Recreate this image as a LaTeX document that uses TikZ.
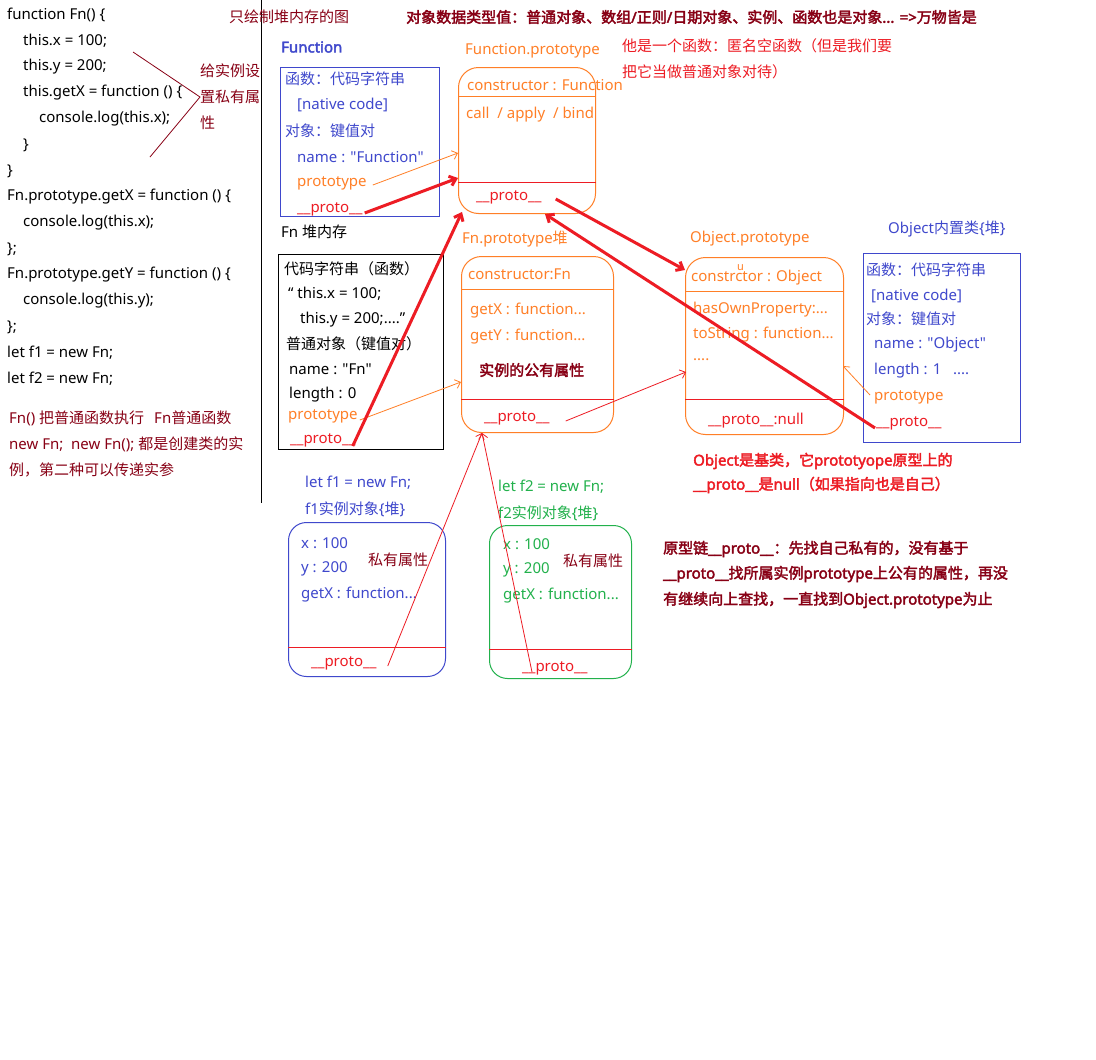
\documentclass[tikz,border=0pt]{standalone}
\usepackage{fontspec}
\setmainfont{Noto Sans}[Ligatures=TeXOff, AutoFakeBold=2.5]
\newfontfamily\cjkfont{Noto Sans CJK SC}[Ligatures=TeXOff, AutoFakeBold=2.5]
\usetikzlibrary{arrows.meta}
\usepackage{xcolor}

% switch to the CJK face for ideographs and CJK punctuation
\newcount\cjkcnt
\newcommand{\cjkrange}[2]{%
  \cjkcnt=#1
  \loop
    \XeTeXcharclass\cjkcnt=7
    \ifnum\cjkcnt<#2 \advance\cjkcnt by 1
  \repeat}
\cjkrange{"3000}{"303F}
\cjkrange{"4E00}{"9FFF}
\cjkrange{"FF00}{"FFEF}
\XeTeXinterchartokenstate=1
\XeTeXinterchartoks 0 7 = {\cjkfont}
\XeTeXinterchartoks 4095 7 = {\cjkfont}
\XeTeXinterchartoks 7 0 = {\rmfamily}
\XeTeXinterchartoks 4095 0 = {\rmfamily}

\definecolor{pblue}{RGB}{63,72,204}
\definecolor{porange}{RGB}{255,127,39}
\definecolor{pred}{RGB}{237,28,36}
\definecolor{pdark}{RGB}{136,0,21}
\definecolor{pgreen}{RGB}{34,177,76}

\newcommand{\pp}{\_\_proto\_\_}

\begin{document}
\begin{tikzpicture}[
        x=1pt, y=-1pt,
        t/.style={anchor=west, inner sep=0pt, font=\fontsize{15}{18}\selectfont},
        b/.style={t, font=\fontsize{15}{18}\selectfont\bfseries},
        box/.style={draw, anchor=north west, inner sep=0pt, line width=1pt},
        rbox/.style={box, rounded corners=20pt},
        thinarrow/.style={-{Straight Barb[length=5pt,width=9pt]}, line width=0.8pt},
        thickarrow/.style={-{Straight Barb[length=6pt,width=10pt]}, line width=3pt}
    ]
        \useasboundingbox[fill=white] (0,0) rectangle (1096,1060);

        % Code on the left
        \node[t] (c1) at (7,15) {function Fn() \{};
        \node[t] (c2) at (23,41) {this.x = 100;};
        \node[t] (c3) at (23,67) {this.y = 200;};
        \node[t] (c4) at (23,93) {this.getX = function () \{};
        \node[t] (c5) at (39,119) {console.log(this.x);};
        \node[t] (c6) at (23,145) {\}};
        \node[t] (c7) at (7,171) {\}};
        \node[t] (c8) at (7,197) {Fn.prototype.getX = function () \{};
        \node[t] (c9) at (23,223) {console.log(this.x);};
        \node[t] (c10) at (7,249) {\};};
        \node[t] (c11) at (7,275) {Fn.prototype.getY = function () \{};
        \node[t] (c12) at (23,301) {console.log(this.y);};
        \node[t] (c13) at (7,327) {\};};
        \node[t] (c14) at (7,353) {let f1 = new Fn;};
        \node[t] (c15) at (7,379) {let f2 = new Fn;};

        % Private property note
        \node[t, text=pdark] (pn1) at (200,71) {给实例设};
        \node[t, text=pdark] (pn2) at (200,97) {置私有属};
        \node[t, text=pdark] (pn3) at (200,123) {性};
        \coordinate (br-a) at (133,52);
        \coordinate (br-b) at (150,157);
        \draw[pdark, line width=0.8pt] (br-a) -- (pn2.west) -- (br-b);

        % Notes under the code
        \node[t, text=pdark] (n1) at (9,418) {Fn() 把普通函数执行 \ \ Fn普通函数};
        \node[t, text=pdark] (n2) at (9,444) {new Fn; \ new Fn(); 都是创建类的实};
        \node[t, text=pdark] (n3) at (9,470) {例，第二种可以传递实参};

        % Separator
        \coordinate (sep-top) at (261,0);
        \coordinate (sep-bot) at (261,503);
        \draw[line width=1pt] (sep-top) -- (sep-bot);

        % Titles
        \node[t, text=pdark] (title1) at (229,17) {只绘制堆内存的图};
        \node[b, text=pdark] (title2) at (406,17) {对象数据类型值：普通对象、数组/正则/日期对象、实例、函数也是对象... =>万物皆是};

        % Function (built-in class)
        \node[b, text=pblue] (fnc-lbl) at (281,47) {Function};
        \node[box, draw=pblue, minimum width=159pt, minimum height=149pt] (fnc) at (280,67) {};
        \node[t, text=pblue] (fnc-1) at (285,79) {函数：代码字符串};
        \node[t, text=pblue] (fnc-2) at (297,105) {[native code]};
        \node[t, text=pblue] (fnc-3) at (285,131) {对象：键值对};
        \node[t, text=pblue] (fnc-4) at (297,157) {name : "Function"};
        \node[t, text=porange] (fnc-pt) at (297,183) {prototype};
        \node[t, text=pred] (fnc-pp) at (297,209) {\pp};

        % Function.prototype
        \node[t, text=porange] (fp-lbl) at (465,51) {Function.prototype};
        \node[rbox, draw=porange, minimum width=137pt, minimum height=146pt] (fp) at (458,67) {};
        \draw[porange, line width=1pt] (fp.west |- 0,96) -- (fp.east |- 0,96);
        \draw[pred, line width=1pt] (fp.west |- 0,182) -- (fp.east |- 0,182);
        \node[t, text=porange] (fp-1) at (467,85) {constructor : Function};
        \node[t, text=porange] (fp-2) at (466,115) {call \ / apply \ / bind};
        \node[t, text=pred] (fp-pp) at (476,197) {\pp};
        \node[t, text=pred] (fp-n1) at (622,46) {他是一个函数：匿名空函数（但是我们要};
        \node[t, text=pred] (fp-n2) at (622,72) {把它当做普通对象对待）};

        % Fn heap
        \node[t] (fn-lbl) at (281,232) {Fn 堆内存};
        \node[box, minimum width=165pt, minimum height=195pt] (fn) at (278,254) {};
        \node[t] (fn-1) at (284,269) {代码字符串（函数）};
        \node[t] (fn-2) at (288,294) {“ this.x = 100;};
        \node[t] (fn-3) at (300,320) {this.y = 200;....”};
        \node[t] (fn-4) at (286,344) {普通对象（键值对）};
        \node[t] (fn-5) at (289,369) {name : "Fn"};
        \node[t] (fn-6) at (289,395) {length : 0};
        \node[t, text=porange] (fn-pt) at (288,416) {prototype};
        \node[t, text=pred] (fn-pp) at (290,440) {\pp};

        % Fn.prototype heap
        \node[t, text=porange] (fnp-lbl) at (462,239) {Fn.prototype堆};
        \node[rbox, draw=porange, minimum width=152pt, minimum height=176pt] (fnp) at (461,256) {};
        \draw[porange, line width=1pt] (fnp.west |- 0,289) -- (fnp.east |- 0,289);
        \draw[pred, line width=1pt] (fnp.west |- 0,399) -- (fnp.east |- 0,399);
        \node[t, text=porange] (fnp-1) at (468,274) {constructor:Fn};
        \node[t, text=porange] (fnp-2) at (470,311) {getX : function...};
        \node[t, text=porange] (fnp-3) at (470,337) {getY : function...};
        \node[b, text=pdark] (fnp-4) at (479,370) {实例的公有属性};
        \node[t, text=pred] (fnp-pp) at (484,418) {\pp};

        % Object.prototype
        \node[t, text=porange] (op-lbl) at (690,239) {Object.prototype};
        \node[rbox, draw=porange, minimum width=158pt, minimum height=177pt] (op) at (685,257) {};
        \draw[porange, line width=1pt] (op.west |- 0,291) -- (op.east |- 0,291);
        \draw[pred, line width=1pt] (op.west |- 0,399) -- (op.east |- 0,399);
        \node[t, text=porange] (op-1) at (691,278) {constrctor : Object};
        \node[t, text=porange, font=\fontsize{11}{12}\selectfont] (op-u) at (737,268) {u};
        \node[t, text=porange] (op-2) at (693,310) {hasOwnProperty:...};
        \node[t, text=porange] (op-3) at (693,335) {toString : function...};
        \node[t, text=porange] (op-4) at (693,360) {....};
        \node[t, text=pred] (op-pp) at (708,421) {\pp:null};

        % Object (built-in class)
        \node[t, text=pblue] (obj-lbl) at (888,229) {Object内置类\{堆\}};
        \node[box, draw=pblue, minimum width=157pt, minimum height=189pt] (obj) at (863,253) {};
        \node[t, text=pblue] (obj-1) at (866,270) {函数：代码字符串};
        \node[t, text=pblue] (obj-2) at (871,296) {[native code]};
        \node[t, text=pblue] (obj-3) at (866,319) {对象：键值对};
        \node[t, text=pblue] (obj-4) at (874,345) {name : "Object"};
        \node[t, text=pblue] (obj-5) at (874,371) {length : 1 \ \ ....};
        \node[t, text=porange] (obj-pt) at (874,397) {prototype};
        \node[t, text=pred] (obj-pp) at (876,423) {\pp};

        % Notes on the right
        \node[b, text=pred] (on1) at (693,461) {Object是基类，它prototyope原型上的};
        \node[b, text=pred] (on2) at (693,485) {\pp 是null（如果指向也是自己）};
        \node[b, text=pdark] (cn1) at (663,549) {原型链\pp ：先找自己私有的，没有基于};
        \node[b, text=pdark] (cn2) at (663,574) {\pp 找所属实例prototype上公有的属性，再没};
        \node[b, text=pdark] (cn3) at (663,600) {有继续向上查找，一直找到Object.prototype为止};

        % f1 instance
        \node[t, text=pblue] (f1-lbl1) at (305,483) {let f1 = new Fn;};
        \node[t, text=pblue] (f1-lbl2) at (305,509) {f1实例对象\{堆\}};
        \node[rbox, draw=pblue, rounded corners=18pt, minimum width=157pt, minimum height=154pt] (f1) at (288,522) {};
        \draw[pred, line width=1pt] (f1.west |- 0,647) -- (f1.east |- 0,647);
        \node[t, text=pblue] (f1-1) at (301,543) {x : 100};
        \node[t, text=pblue] (f1-2) at (301,569) {y : 200};
        \node[t, text=pblue] (f1-3) at (301,595) {getX : function...};
        \node[t, text=pdark] (f1-4) at (368,560) {私有属性};
        \node[t, text=pred] (f1-pp) at (311,663) {\pp};

        % f2 instance
        \node[t, text=pgreen] (f2-lbl1) at (498,487) {let f2 = new Fn;};
        \node[t, text=pgreen] (f2-lbl2) at (498,513) {f2实例对象\{堆\}};
        \node[rbox, draw=pgreen, rounded corners=18pt, minimum width=142pt, minimum height=153pt] (f2) at (489,525) {};
        \draw[pred, line width=1pt] (f2.west |- 0,649) -- (f2.east |- 0,649);
        \node[t, text=pgreen] (f2-1) at (503,544) {x : 100};
        \node[t, text=pgreen] (f2-2) at (503,570) {y : 200};
        \node[t, text=pgreen] (f2-3) at (503,596) {getX : function...};
        \node[t, text=pdark] (f2-4) at (563,561) {私有属性};
        \node[t, text=pred] (f2-pp) at (522,668) {\pp};

        % Arrow end points on the boxes
        \coordinate (fp-in1) at (458,153);
        \coordinate (fp-in2) at (458,178);
        \coordinate (fp-in3) at (462,212);
        \coordinate (fp-in4) at (545,214);
        \coordinate (fnp-in1) at (461,382);
        \coordinate (fnp-in2) at (482,433);
        \coordinate (op-in1) at (685,270);
        \coordinate (op-in2) at (686,372);
        \coordinate (op-in3) at (843,366);

        % prototype links
        \draw[thinarrow, porange] (fnc-pt.east) ++(6,2) -- (fp-in1);
        \draw[thinarrow, porange] (fn-pt.east) ++(2,4) -- (fnp-in1);
        \draw[thinarrow, porange] (obj-pt.west) ++(-4,-2) -- (op-in3);

        % __proto__ links
        \draw[thickarrow, pred] (fnc-pp.east) ++(2,4) -- (fp-in2);
        \draw[thickarrow, pred] (fn-pp.east) ++(-3,6) -- (fp-in3);
        \draw[thickarrow, pred] (fp-pp.east) ++(14,2) -- (op-in1);
        \draw[thickarrow, pred] (obj-pp.west) ++(-1,5) -- (fp-in4);
        \draw[thinarrow, pred] (fnp-pp.east) ++(16,3) -- (op-in2);
        \draw[thinarrow, pred] (f1-pp.east) ++(11,3) -- (fnp-in2);
        \draw[thinarrow, pred] (f2-pp.west) ++(10,4) -- (fnp-in2);

    \end{tikzpicture}
\end{document}
